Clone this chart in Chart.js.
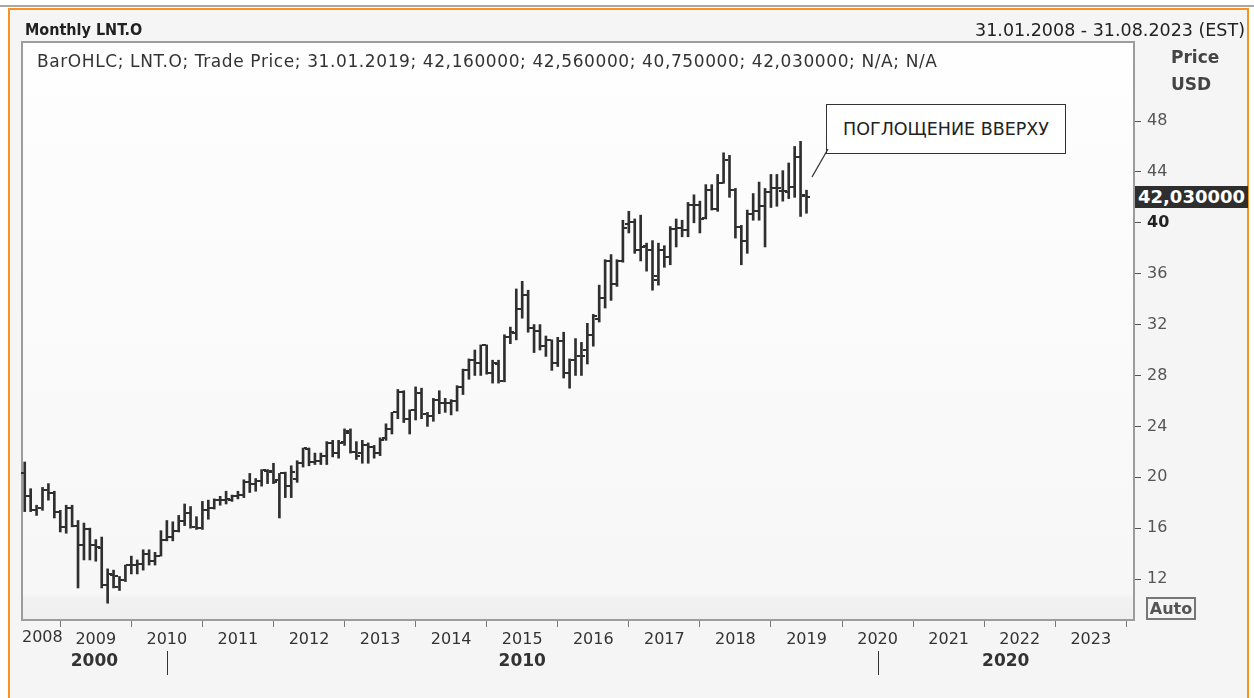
<!DOCTYPE html>
<html>
<head>
<meta charset="utf-8">
<script src="https://cdn.jsdelivr.net/npm/chart.js@4.4.0/dist/chart.umd.min.js"></script>
<style>
  body { margin: 0; width: 1254px; height: 698px; overflow: hidden; background: #fff; font-family: "DejaVu Sans", sans-serif; }
  #grayline { position: absolute; left: 0; top: 5px; width: 1254px; height: 2px; background: #a8a8a8; }
  #frame { position: absolute; left: 8px; top: 8px; width: 1237px; height: 700px; border: 2px solid #f7941d; border-bottom: none; background: #f5f5f5; }
  #c { position: absolute; left: 0; top: 0; }
  .txt { position: absolute; white-space: nowrap; color: #222; }
  #title { left: 25px; top: 20px; font-size: 16px; font-weight: bold; font-family: "DejaVu Sans Condensed"; }
  #range { right: 9px; top: 20px; font-size: 17.5px; }
  #legend { left: 37px; top: 51px; font-size: 17px; letter-spacing: 0.6px; color: #333; }
  #price { left: 1171px; top: 47px; font-size: 17px; font-weight: bold; color: #444; }
  #usd { left: 1171px; top: 74px; font-size: 17px; font-weight: bold; color: #444; }
  #last { left: 1135px; top: 186px; width: 113px; height: 22px; line-height: 22px; background: #2e2e2e; color: #fff; font-weight: bold; font-size: 18px; text-align: center; }
  #auto { left: 1146px; top: 597px; width: 46px; height: 19px; line-height: 19px; border: 2px solid #777; color: #555; font-weight: bold; font-size: 16px; text-align: center; }
  #note { left: 826px; top: 104px; width: 238px; height: 48px; line-height: 48px; border: 1px solid #333; background: #fff; font-size: 17.5px; text-align: center; color: #222; }
  #arrow { position: absolute; left: 0; top: 0; }
</style>
</head>
<body>
<div id="grayline"></div>
<div id="frame"></div>
<canvas id="c" width="1254" height="698"></canvas>
<div class="txt" id="title">Monthly LNT.O</div>
<div class="txt" id="range">31.01.2008 - 31.08.2023 (EST)</div>
<div class="txt" id="legend">BarOHLC; LNT.O; Trade Price; 31.01.2019; 42,160000; 42,560000; 40,750000; 42,030000; N/A; N/A</div>
<div class="txt" id="price">Price</div>
<div class="txt" id="usd">USD</div>
<div class="txt" id="last">42,030000</div>
<div class="txt" id="auto">Auto</div>
<div class="txt" id="note">ПОГЛОЩЕНИЕ ВВЕРХУ</div>
<svg id="arrow" width="1254" height="698"><line x1="812" y1="177" x2="828" y2="149" stroke="#333" stroke-width="1.3"/></svg>
<script>
// =====================
// DATA (monthly, Jan 2008 .. Jan 2019)
// =====================

const opens = [
  20.3, 18.5, 17.4, 17.6, 19.0, 18.8, 17.3, 16.1, 17.6, 16.2, 14.7, 15.9,
  14.7, 14.4, 11.5, 12.3, 11.4, 11.9, 13.1, 13.1, 13.2, 14.0, 13.4, 13.8,
  15.1, 15.3, 15.8, 16.6, 17.2, 16.1, 16.0, 17.4, 17.6, 18.2, 18.2, 18.2,
  18.5, 18.6, 19.6, 19.5, 19.7, 20.5, 20.4, 19.8, 20.3, 19.3, 19.9, 21.1,
  22.2, 21.2, 21.3, 21.7, 22.7, 21.9, 22.8, 23.6, 22.0, 21.9, 22.5, 22.4,
  21.9, 23.1, 23.8, 25.1, 26.7, 24.6, 25.3, 26.6, 25.0, 24.8, 26.1, 25.8,
  25.8, 26.0, 27.1, 28.4, 29.2, 29.0, 30.4, 28.2, 28.9, 27.6, 31.0, 31.3,
  33.2, 34.3, 31.7, 31.5, 30.3, 30.8, 29.0, 30.7, 28.2, 29.2, 29.5, 30.0,
  31.2, 32.4, 34.1, 37.0, 35.2, 37.0, 39.9, 40.1, 37.9, 38.2, 37.9, 35.8,
  37.9, 37.3, 39.5, 39.6, 39.4, 41.4, 41.4, 40.4, 42.6, 41.1, 43.1, 44.9,
  42.6, 39.7, 38.6, 40.7, 40.9, 41.3, 42.4, 42.7, 42.5, 42.4, 42.8, 45.2,
  42.16
];
const highs = [
  21.2, 19.1, 17.8, 19.2, 19.5, 18.9, 17.4, 17.8, 17.8, 16.6, 16.4, 16.0,
  15.1, 15.3, 12.8, 12.7, 12.2, 13.1, 13.8, 13.5, 14.3, 14.3, 14.1, 15.8,
  16.6, 16.5, 17.0, 17.9, 17.7, 16.9, 18.1, 18.2, 18.3, 18.5, 18.9, 18.6,
  18.9, 19.8, 20.3, 19.9, 20.6, 20.6, 21.1, 20.3, 20.4, 20.9, 21.3, 22.3,
  22.3, 21.9, 21.9, 22.8, 22.9, 22.9, 23.8, 23.8, 22.8, 22.9, 22.7, 22.5,
  23.1, 24.2, 25.1, 26.9, 26.8, 25.3, 27.1, 27.0, 25.1, 26.2, 26.8, 26.2,
  26.1, 27.2, 28.5, 29.3, 30.0, 30.4, 30.4, 29.2, 29.2, 31.2, 31.8, 34.8,
  35.4, 34.7, 32.0, 32.0, 31.1, 30.8, 31.0, 31.4, 29.3, 30.9, 30.6, 32.1,
  32.8, 35.1, 37.1, 37.5, 37.1, 40.2, 40.9, 40.3, 40.6, 38.4, 38.6, 38.4,
  38.2, 39.7, 40.3, 40.2, 41.6, 42.2, 41.7, 43.0, 43.0, 43.8, 45.5, 45.3,
  42.7, 39.8, 41.0, 42.3, 43.2, 42.7, 43.8, 43.8, 44.1, 44.7, 46.0, 46.4,
  42.56
];
const lows = [
  17.3, 17.3, 17.0, 17.4, 18.2, 16.8, 15.7, 15.6, 16.1, 11.3, 13.5, 13.5,
  13.4, 11.3, 10.1, 11.3, 11.1, 11.8, 12.4, 12.4, 12.7, 13.1, 13.1, 13.8,
  15.0, 15.0, 15.7, 16.2, 16.0, 15.9, 15.9, 16.7, 17.5, 17.8, 17.9, 18.1,
  18.3, 18.4, 18.8, 18.9, 19.3, 19.5, 19.5, 16.8, 18.4, 18.4, 19.6, 20.8,
  20.9, 21.0, 21.0, 21.0, 21.6, 21.5, 22.5, 21.9, 21.4, 21.1, 21.1, 21.5,
  21.7, 22.9, 23.4, 24.6, 24.3, 23.4, 24.5, 24.6, 24.0, 24.4, 25.0, 25.1,
  24.9, 25.2, 26.5, 27.7, 28.0, 28.0, 28.1, 27.4, 27.4, 27.5, 30.5, 30.8,
  32.5, 31.4, 29.8, 30.0, 29.5, 28.4, 28.7, 27.8, 27.0, 28.0, 28.0, 28.9,
  30.3, 32.2, 33.3, 33.9, 35.0, 36.9, 39.2, 37.6, 37.0, 36.2, 34.7, 35.1,
  36.5, 36.7, 38.1, 38.9, 38.9, 40.0, 39.2, 40.3, 41.0, 40.9, 43.1, 42.0,
  38.8, 36.7, 37.6, 40.2, 40.2, 38.1, 41.2, 41.3, 41.7, 41.9, 42.0, 40.5,
  40.75
];
const closes = [
  18.5, 17.4, 17.6, 19.0, 18.8, 17.3, 16.1, 17.6, 16.2, 14.7, 15.9, 14.7,
  14.5, 11.5, 12.4, 12.2, 11.9, 13.1, 13.1, 13.2, 14.0, 13.4, 13.8, 15.1,
  15.3, 15.8, 16.6, 17.2, 16.1, 16.0, 17.4, 17.6, 18.2, 18.2, 18.3, 18.5,
  18.6, 19.6, 19.5, 19.7, 20.6, 20.5, 19.6, 20.3, 19.3, 20.4, 21.1, 22.3,
  21.2, 21.3, 21.7, 22.7, 21.9, 22.7, 23.5, 22.0, 21.7, 22.5, 22.4, 21.9,
  22.9, 23.8, 25.1, 26.7, 24.6, 25.3, 26.6, 25.0, 24.8, 26.1, 25.8, 25.8,
  26.0, 27.1, 28.4, 29.2, 29.0, 30.4, 28.2, 29.0, 27.6, 31.0, 31.4, 33.2,
  34.3, 31.7, 31.5, 30.3, 30.8, 29.0, 30.7, 28.2, 29.2, 29.5, 29.5, 31.2,
  32.7, 34.1, 37.0, 35.2, 37.0, 39.6, 40.1, 37.9, 38.1, 37.9, 35.5, 37.9,
  37.3, 39.5, 39.6, 39.4, 41.4, 41.4, 40.3, 42.6, 41.1, 43.1, 44.9, 42.6,
  39.7, 38.6, 40.7, 40.9, 41.3, 42.4, 42.7, 42.7, 42.5, 42.8, 45.2, 42.1,
  42.03
];

const firstYear = 2008;
const yearTicks = [2008, 2009, 2010, 2011, 2012, 2013, 2014, 2015, 2016, 2017, 2018, 2019, 2020, 2021, 2022, 2023];
const decadeLabels = ["2000", "2010", "2020"];
const priceTicks = [12, 16, 20, 24, 28, 32, 36, 40, 44, 48];


// =====================
// HELPERS
// =====================

const monthIndex = (year) => (year - firstYear) * 12;
const FONT = "DejaVu Sans";


// =====================
// PLUGINS
// =====================

// plot background + border
const plotBg = {
  id: "plotBg",
  beforeDatasetsDraw(chart) {
    const { ctx, chartArea: a } = chart;
    ctx.save();
    const g = ctx.createLinearGradient(0, a.top, 0, a.bottom);
    g.addColorStop(0, "#fefefe");
    g.addColorStop(0.955, "#f7f7f7");
    g.addColorStop(0.962, "#f1f1f1");
    g.addColorStop(1, "#efefef");
    ctx.fillStyle = g;
    ctx.fillRect(a.left, a.top, a.right - a.left, a.bottom - a.top);
    ctx.strokeStyle = "#9c9c9c";
    ctx.lineWidth = 2;
    ctx.strokeRect(a.left, a.top, a.right - a.left, a.bottom - a.top);
    ctx.restore();
  }
};

// open (left) and close (right) ticks
const ohlcTicks = {
  id: "ohlcTicks",
  afterDatasetsDraw(chart) {
    const { ctx } = chart;
    const xs = chart.scales.x, ys = chart.scales.y;
    ctx.save();
    ctx.fillStyle = "#2f2f2f";
    opens.forEach((o, i) => {
      const x = Math.round(xs.getPixelForValue(i));
      const yo = Math.round(ys.getPixelForValue(o));
      const yc = Math.round(ys.getPixelForValue(closes[i]));
      ctx.fillRect(x - 4, yo - 1, 3, 2);
      ctx.fillRect(x + 1, yc - 1, 3, 2);
    });
    ctx.restore();
  }
};

// first year label + decade row
const decadeRow = {
  id: "decadeRow",
  afterDraw(chart) {
    const { ctx, chartArea: a } = chart;
    const xs = chart.scales.x;
    const bounds = [a.left, xs.getPixelForValue(monthIndex(2010)), xs.getPixelForValue(monthIndex(2020)), a.right];
    ctx.save();
    ctx.fillStyle = "#333";
    ctx.font = "16px '" + FONT + "'";
    ctx.textAlign = "left";
    ctx.textBaseline = "top";
    ctx.fillText(String(yearTicks[0]), a.left, a.bottom + 10);

    ctx.font = "bold 17px '" + FONT + "'";
    ctx.textAlign = "center";
    ctx.textBaseline = "middle";
    decadeLabels.forEach((lbl, k) => {
      ctx.fillText(lbl, (bounds[k] + bounds[k + 1]) / 2, 662);
    });
    ctx.strokeStyle = "#333";
    ctx.lineWidth = 1;
    [bounds[1], bounds[2]].forEach(px => {
      const x = Math.round(px) + 0.5;
      ctx.beginPath();
      ctx.moveTo(x, 651);
      ctx.lineTo(x, 675);
      ctx.stroke();
    });
    ctx.restore();
  }
};


// =====================
// CHART
// =====================

new Chart(document.getElementById("c"), {
  type: "bar",
  data: {
    datasets: [{
      data: highs.map((h, i) => ({ x: i, y: [lows[i], h] })),
      backgroundColor: "#2f2f2f",
      borderWidth: 0,
      barThickness: 2
    }]
  },
  options: {
    responsive: false,
    animation: false,
    devicePixelRatio: 1,
    layout: { padding: { left: 22, top: 42, right: 0, bottom: 0 } },
    plugins: { legend: { display: false }, tooltip: { enabled: false } },
    scales: {
      x: {
        type: "linear",
        offset: false,
        min: -0.46,
        max: 187.3,
        afterBuildTicks: s => { s.ticks = yearTicks.map(y => ({ value: monthIndex(y) })); },
        afterFit: s => { s.height = 78; },
        ticks: {
          autoSkip: false,
          maxRotation: 0,
          padding: 3,
          color: "#333",
          font: { family: FONT, size: 16 },
          callback: v => (v === 0 ? "" : String(firstYear + v / 12))
        },
        grid: { drawOnChartArea: false, drawTicks: true, tickLength: 7, color: "#777" },
        border: { display: false }
      },
      y: {
        position: "right",
        min: 8.78,
        max: 54.21,
        afterBuildTicks: s => { s.ticks = priceTicks.map(v => ({ value: v })); },
        afterFit: s => { s.width = 120; },
        ticks: {
          padding: 6,
          color: ctx => (ctx.tick && ctx.tick.value === 40 ? "#222" : "#555"),
          font: ctx => ({ family: FONT, size: 16, weight: ctx.tick && ctx.tick.value === 40 ? "bold" : "normal" })
        },
        grid: { drawOnChartArea: false, drawTicks: true, tickLength: 7, color: "#555" },
        border: { display: false }
      }
    }
  },
  plugins: [plotBg, ohlcTicks, decadeRow]
});
</script>
</body>
</html>
